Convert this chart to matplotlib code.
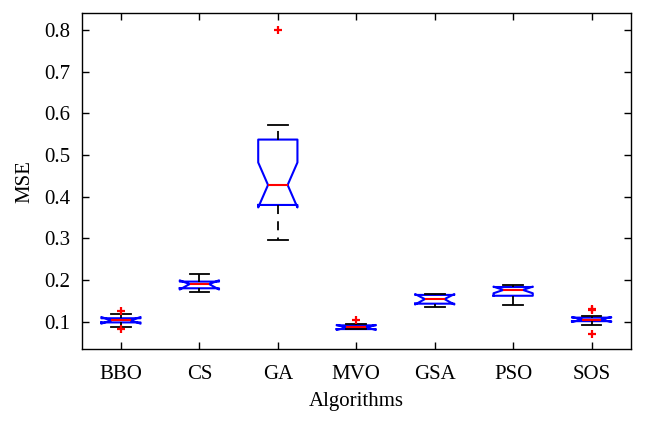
import numpy as np
import matplotlib
matplotlib.use('Agg')
import matplotlib.pyplot as plt

plt.rcParams['font.family'] = ['Liberation Serif', 'DejaVu Serif']

# values (MSE per algorithm)
names = ['BBO', 'CS', 'GA', 'MVO', 'GSA', 'PSO', 'SOS']
med = [0.103, 0.190, 0.428, 0.086, 0.154, 0.176, 0.105]
q1 = [0.098, 0.180, 0.380, 0.082, 0.143, 0.162, 0.101]
q3 = [0.108, 0.196, 0.537, 0.091, 0.164, 0.183, 0.1095]
whislo = [0.087, 0.171, 0.295, 0.081, 0.136, 0.140, 0.091]
whishi = [0.119, 0.214, 0.573, 0.095, 0.166, 0.189, 0.113]
cilo = [0.095, 0.177, 0.374, 0.080, 0.141, 0.168, 0.099]
cihi = [0.111, 0.199, 0.482, 0.092, 0.166, 0.184, 0.111]
fliers = [[0.126, 0.083], [], [0.80], [0.105], [], [], [0.127, 0.130, 0.070]]

stats = []
for i in range(len(names)):
    stats.append({'label': names[i], 'med': med[i], 'q1': q1[i], 'q3': q3[i],
                  'whislo': whislo[i], 'whishi': whishi[i],
                  'cilo': cilo[i], 'cihi': cihi[i], 'fliers': np.array(fliers[i])})

fig = plt.figure(figsize=(6.46, 4.26), dpi=100)
ax = fig.add_axes([0.1265, 0.1796, 0.850, 0.790])

ax.bxp(stats, shownotches=True, widths=0.5,
       boxprops=dict(color='#0000ff', linewidth=1.5),
       medianprops=dict(color='red', linewidth=1.5),
       whiskerprops=dict(color='black', linewidth=1.3, linestyle=(0, (5, 4))),
       capprops=dict(color='black', linewidth=1.3),
       flierprops=dict(marker='+', markeredgecolor='red', markersize=6, markeredgewidth=1.6))

ax.set_xlim(0.5, 7.5)
ax.set_ylim(0.033, 0.841)
ax.set_yticks([0.1, 0.2, 0.3, 0.4, 0.5, 0.6, 0.7, 0.8])
ax.set_yticklabels(['0.1', '0.2', '0.3', '0.4', '0.5', '0.6', '0.7', '0.8'])
ax.tick_params(direction='in', top=True, right=True, length=5, width=1, labelsize=15)
ax.tick_params(axis='x', pad=11)
ax.tick_params(axis='y', pad=8)
for s in ax.spines.values():
    s.set_linewidth(1.0)
ax.set_xlabel('Algorithms', fontsize=15, labelpad=6)
ax.set_ylabel('MSE', fontsize=15, labelpad=7)

fig.savefig('out.png', dpi=100)
